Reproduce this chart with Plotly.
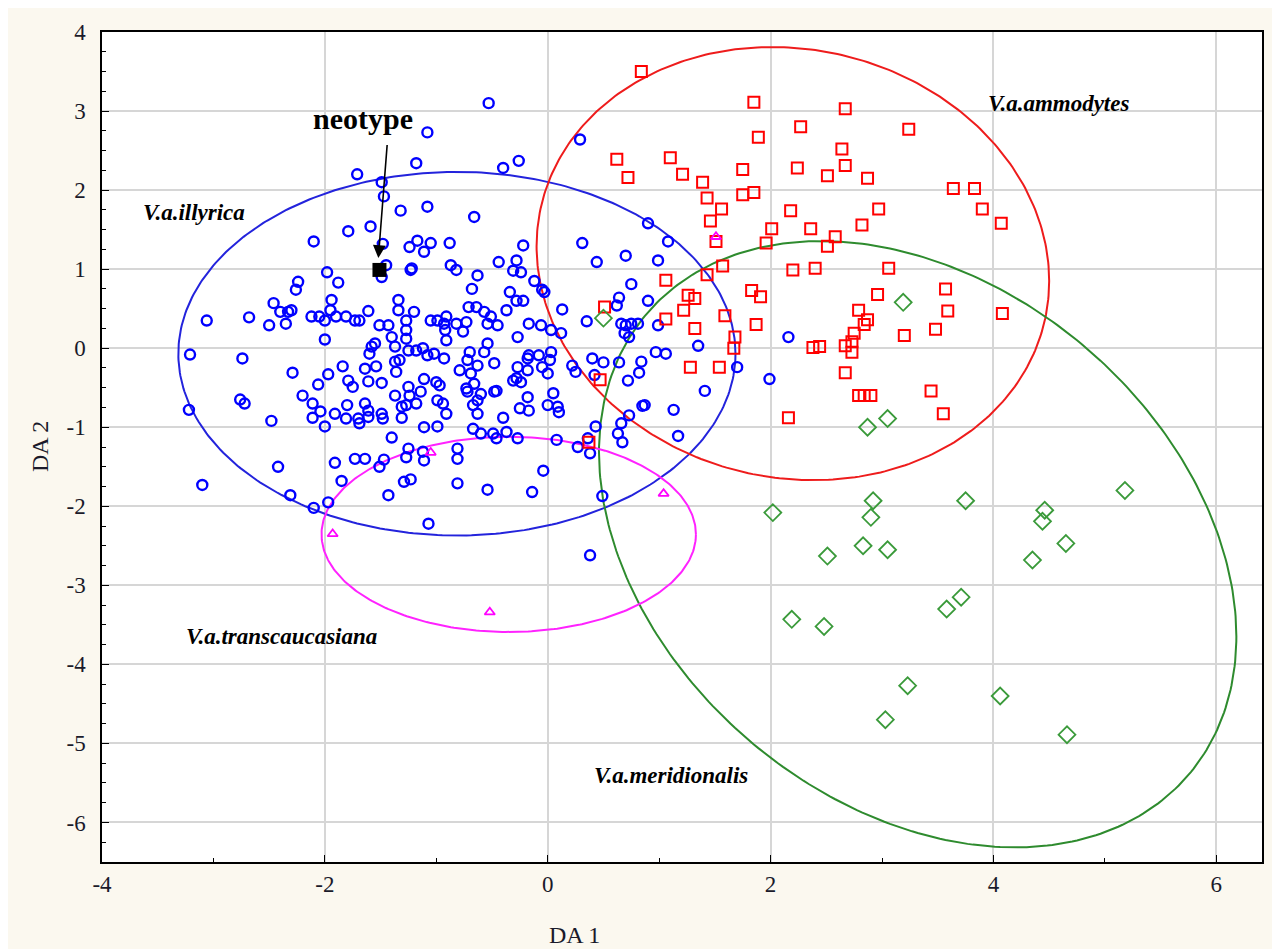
import numpy as np
import plotly.graph_objects as go

# ---------------- data (DA1, DA2) ----------------
illyrica_pts = [
    (-1.08, 2.73), (-1.18, 2.34), (-1.71, 2.20), (-1.49, 2.10), (-1.47, 1.92), (-1.32, 1.74),
    (-1.08, 1.79), (-1.79, 1.48), (-1.59, 1.54), (-2.10, 1.35), (-1.48, 1.32), (-1.24, 1.28),
    (-1.17, 1.36), (-1.11, 1.22), (-1.05, 1.33), (-0.88, 1.33), (-1.45, 1.05), (-1.49, 0.90),
    (-1.23, 0.99), (-1.22, 1.01), (-0.87, 1.05), (-0.82, 0.99), (-1.98, 0.96), (-1.88, 0.83),
    (-2.24, 0.84), (-2.26, 0.74), (-3.06, 0.35), (-2.68, 0.39), (-2.50, 0.29), (-2.46, 0.57),
    (-2.40, 0.46), (-2.33, 0.46), (-2.35, 0.31), (-2.30, 0.48), (-2.12, 0.40), (-2.05, 0.40),
    (-2.00, 0.35), (-1.94, 0.61), (-1.95, 0.48), (-1.90, 0.40), (-1.81, 0.40), (-1.73, 0.35),
    (-1.69, 0.35), (-1.61, 0.47), (-1.34, 0.61), (-1.34, 0.48), (-1.27, 0.35), (-1.20, 0.46),
    (-1.51, 0.29), (-1.43, 0.29), (-1.05, 0.35), (-0.99, 0.35), (-0.91, 0.40),
    # upper centre / right
    (-0.53, 3.10), (0.29, 2.64), (-0.40, 2.28), (-0.26, 2.37), (-0.66, 1.66), (0.90, 1.58),
    (1.08, 1.35), (-0.22, 1.30), (0.31, 1.33), (0.70, 1.17), (0.44, 1.09), (0.99, 1.11),
    (-0.44, 1.09), (-0.28, 1.11), (-0.31, 0.98), (-0.24, 0.96), (-0.63, 0.92), (-0.12, 0.85),
    (-0.05, 0.74), (-0.03, 0.71), (0.75, 0.81), (-0.68, 0.75), (-0.34, 0.71), (-0.28, 0.60),
    (-0.22, 0.60), (0.64, 0.64), (0.62, 0.54), (0.90, 0.60), (-0.71, 0.52), (-0.64, 0.52),
    (-0.57, 0.46), (-0.51, 0.40), (-0.37, 0.48), (0.13, 0.49), (0.35, 0.34), (-0.93, 0.31),
    (-0.82, 0.31), (-0.73, 0.33), (-0.54, 0.31), (-0.45, 0.29), (-0.17, 0.31), (-0.06, 0.29),
    (0.66, 0.31), (0.70, 0.29), (0.75, 0.31), (0.99, 0.29), (0.69, 0.19), (0.81, 0.31),
    # centre
    (-0.76, 0.21), (-0.27, 0.14), (0.03, 0.23), (0.12, 0.19), (-0.54, 0.06), (-0.57, -0.05),
    (-0.91, 0.10), (-0.93, -0.13), (-0.70, -0.05), (-0.72, -0.15), (-0.63, -0.22), (-0.79, -0.28),
    (-0.69, -0.32), (-0.66, -0.45), (-0.48, -0.19), (-0.73, -0.51), (-0.72, -0.55), (-0.60, -0.58),
    (-0.63, -0.66), (-0.67, -0.72), (-0.63, -0.83), (-0.91, -0.83), (-0.94, -0.70), (-0.46, -0.54),
    (-0.40, -0.88), (-0.27, -0.24), (-0.28, -0.38), (-0.24, -0.43), (-0.31, -0.41), (-0.18, -0.28),
    (-0.08, -0.09), (-0.17, -0.09), (-0.05, -0.24), (0.00, -0.32), (0.02, -0.15), (0.03, -0.05),
    (-0.18, -0.13), (-0.18, -0.62), (-0.25, -0.76), (-0.17, -0.79), (0.00, -0.72), (0.05, -0.57),
    (0.09, -0.74), (0.10, -0.81), (-0.48, -0.55), (-0.67, -1.02), (-0.60, -1.08), (-0.49, -1.08),
    (-0.46, -1.14), (-0.37, -1.06), (-0.27, -1.14), (-0.81, -1.27), (-0.81, -1.40), (-0.81, -1.71),
    (-0.54, -1.79), (-0.14, -1.82), (-0.04, -1.55), (0.08, -1.16), (0.27, -1.25), (0.36, -1.14),
    (0.38, -1.33), (0.43, -0.99), (0.49, -1.87), (0.38, -2.62), (0.63, -1.08), (0.67, -1.19),
    (0.66, -0.95), (0.73, -0.85), (1.17, -1.11), (1.13, -0.78), (0.87, -0.72), (0.85, -0.73),
    (1.41, -0.54), (0.72, -0.41), (0.82, -0.31), (0.84, -0.17), (0.64, -0.18), (0.50, -0.18),
    (0.40, -0.13), (0.22, -0.22), (0.25, -0.30), (0.42, -0.34), (0.97, -0.05), (1.06, -0.07),
    (1.35, 0.03), (0.73, 0.14), (1.70, -0.24), (2.16, 0.14), (1.99, -0.39),
    # left / lower left
    (-2.00, 0.11), (-3.21, -0.08), (-2.74, -0.13), (-2.29, -0.31), (-1.97, -0.33), (-1.84, -0.23),
    (-2.06, -0.46), (-2.20, -0.60), (-2.11, -0.70), (-2.04, -0.80), (-2.11, -0.88), (-2.00, -0.99),
    (-1.91, -0.83), (-2.48, -0.92), (-2.76, -0.65), (-2.72, -0.70), (-3.22, -0.78), (-1.80, -0.72),
    (-1.79, -0.41), (-1.75, -0.49), (-1.81, -0.89), (-1.70, -0.89), (-1.69, -0.95), (-1.64, -0.70),
    (-1.61, -0.79), (-1.61, -0.87), (-1.64, -0.26), (-1.54, -0.23), (-1.61, -0.42), (-1.49, -0.44),
    (-1.60, -0.07), (-1.58, 0.02), (-1.55, 0.06), (-1.49, -0.83), (-1.48, -0.89), (-1.40, 0.14),
    (-1.37, 0.02), (-1.37, -0.17), (-1.33, -0.15), (-1.36, -0.30), (-1.25, -0.03), (-1.18, -0.03),
    (-1.12, 0.00), (-1.08, -0.09), (-1.02, -0.07), (-1.27, 0.23), (-1.27, 0.12), (-1.11, -0.39),
    (-1.25, -0.49), (-1.24, -0.60), (-1.37, -0.60), (-1.31, -0.74), (-1.27, -0.72), (-1.18, -0.70),
    (-1.14, -0.55), (-1.31, -0.88), (-1.00, -0.43), (-0.97, -0.47), (-0.99, -0.66), (-1.11, -1.00),
    (-0.99, -0.99), (-0.92, 0.23), (-1.40, -1.13), (-1.91, -1.45), (-1.85, -1.68), (-1.73, -1.40),
    (-1.64, -1.40), (-1.51, -1.50), (-1.47, -1.41), (-1.27, -1.38), (-1.25, -1.27), (-1.12, -1.31),
    (-1.11, -1.42), (-1.29, -1.69), (-1.23, -1.66), (-1.43, -1.86), (-1.07, -2.22), (-2.42, -1.50),
    (-3.10, -1.73), (-2.31, -1.86), (-2.10, -2.02), (-1.97, -1.95),
]

ammodytes_pts = [
    (0.84, 3.50), (1.85, 3.11), (2.67, 3.03), (2.27, 2.80), (1.89, 2.67), (3.24, 2.77),
    (0.62, 2.39), (1.10, 2.41), (0.72, 2.16), (1.21, 2.20), (1.75, 2.26), (1.39, 2.10),
    (2.64, 2.52), (2.67, 2.31), (2.24, 2.28), (2.51, 2.18), (2.87, 2.15), (1.43, 1.90),
    (1.75, 1.94), (1.85, 1.97), (1.56, 1.76), (1.46, 1.61), (2.18, 1.74), (2.97, 1.76),
    (2.01, 1.51), (2.36, 1.51), (2.82, 1.56), (1.51, 1.35), (1.96, 1.33), (2.58, 1.41),
    (2.51, 1.29), (3.64, 2.02), (3.83, 2.02), (3.90, 1.76), (4.07, 1.58), (1.57, 1.04),
    (1.43, 0.93), (2.20, 0.99), (2.40, 1.01), (3.06, 1.01), (1.06, 0.86), (1.26, 0.67),
    (1.32, 0.63), (1.83, 0.73), (1.91, 0.65), (2.96, 0.68), (3.57, 0.75), (1.22, 0.48),
    (1.06, 0.37), (1.59, 0.41), (0.51, 0.52), (2.79, 0.48), (2.87, 0.36), (2.84, 0.30),
    (1.87, 0.30), (1.32, 0.25), (3.59, 0.47), (4.08, 0.44), (3.48, 0.24), (3.20, 0.16),
    (1.68, 0.14), (1.67, 0.00), (1.28, -0.24), (1.54, -0.24), (0.47, -0.40), (2.16, -0.88),
    (2.38, 0.01), (2.44, 0.02), (2.67, 0.03), (2.73, 0.08), (2.75, 0.19), (2.73, -0.05),
    (2.67, -0.31), (2.79, -0.60), (2.84, -0.60), (2.90, -0.60), (3.44, -0.54), (3.55, -0.83),
    (0.37, -1.19),
]

meridionalis_pts = [
    (0.50, 0.38), (3.19, 0.58), (3.05, -0.89), (2.87, -1.00),
    (2.02, -2.08), (2.92, -1.93), (2.90, -2.14), (3.75, -1.93), (2.51, -2.63), (2.83, -2.50),
    (3.05, -2.55), (4.46, -2.05), (4.44, -2.19), (4.65, -2.47), (4.35, -2.68), (5.18, -1.80),
    (2.19, -3.43), (2.48, -3.52), (3.58, -3.30), (3.71, -3.15), (3.23, -4.27), (3.03, -4.70),
    (4.06, -4.40), (4.66, -4.89),
]

transcaucasiana_pts = [
    (1.51, 1.41), (-1.05, -1.32), (-1.93, -2.35), (1.04, -1.84), (-0.52, -3.34),
]

neotype_pt = (-1.51, 0.99)

# 95% ellipses: centre x, centre y, half-width, half-height, correlation
ellipse_names = ["illyrica", "ammodytes", "meridionalis", "transcaucasiana"]
ellipse_cx = [-0.815, 2.20, 3.32, -0.35]
ellipse_cy = [-0.07, 1.07, -2.48, -2.355]
ellipse_sx = [2.50, 2.30, 2.86, 1.68]
ellipse_sy = [2.30, 2.74, 3.835, 1.235]
ellipse_rho = [0.0, -0.08, -0.3045, 0.0]

x_ticks = [-4, -2, 0, 2, 4, 6]
x_tick_labels = ["-4", "-2", "0", "2", "4", "6"]
y_ticks = [4, 3, 2, 1, 0, -1, -2, -3, -4, -5, -6]
y_tick_labels = ["4", "3", "2", "1", "0", "-1", "-2", "-3", "-4", "-5", "-6"]

group_labels = ["V.a.illyrica", "V.a.ammodytes", "V.a.transcaucasiana", "V.a.meridionalis"]
group_label_x = [-3.17, 4.58, -2.39, 1.11]
group_label_y = [1.72, 3.10, -3.65, -5.41]

x_title = "DA 1"
y_title = "DA 2"

# ---------------- figure ----------------
SERIF = "Liberation Serif, Times New Roman, serif"
TXT = "#1a1a2a"
fig = go.Figure()

ell_colors = ["#2323DC", "#EE1C1C", "#2E8B2E", "#FF22FF"]
t = np.linspace(0, 2 * np.pi, 361)
for cx, cy, sx, sy, r, col in zip(ellipse_cx, ellipse_cy, ellipse_sx, ellipse_sy, ellipse_rho, ell_colors):
    ex = cx + sx * np.cos(t)
    ey = cy + sy * (r * np.cos(t) + np.sqrt(1 - r * r) * np.sin(t))
    fig.add_trace(go.Scatter(x=ex, y=ey, mode="lines", line=dict(color=col, width=2),
                             hoverinfo="skip", showlegend=False))

def unzip(pts):
    return [p[0] for p in pts], [p[1] for p in pts]

groups = [
    (illyrica_pts, "circle-open", 10, "#0000FF", 2.4),
    (ammodytes_pts, "square-open", 11, "#FF0000", 2.0),
    (meridionalis_pts, "diamond-open", 13, "#3A9A3A", 1.8),
    (transcaucasiana_pts, "triangle-up-open", 9, "#FF00FF", 1.8),
]
for pts, sym, size, col, lw in groups:
    gx, gy = unzip(pts)
    fig.add_trace(go.Scatter(x=gx, y=gy, mode="markers",
                             marker=dict(symbol=sym, size=size, color=col, line=dict(width=lw, color=col)),
                             showlegend=False))

fig.add_trace(go.Scatter(x=[neotype_pt[0]], y=[neotype_pt[1]], mode="markers",
                         marker=dict(symbol="square", size=14, color="black"), showlegend=False))

# neotype arrow + label
fig.add_annotation(x=neotype_pt[0] - 0.01, y=neotype_pt[1] + 0.15, ax=-1.44, ay=2.59,
                   xref="x", yref="y", axref="x", ayref="y", text="", showarrow=True,
                   arrowhead=2, arrowsize=1.6, arrowwidth=1.6, arrowcolor="black")
fig.add_annotation(x=-1.66, y=2.91, xref="x", yref="y", text="<b>neotype</b>", showarrow=False,
                   font=dict(family=SERIF, size=30, color="black"))

for lab, lx, ly in zip(group_labels, group_label_x, group_label_y):
    fig.add_annotation(x=lx, y=ly, xref="x", yref="y", text=f"<b><i>{lab}</i></b>", showarrow=False,
                       font=dict(family=SERIF, size=23, color="black"))

# axis titles (placed like the reference: DA 1 sits a little left of the frame centre)
fig.add_annotation(x=0.24, y=0, xref="x", yref="paper", yshift=-73, yanchor="middle", xanchor="center",
                   text=x_title, showarrow=False, font=dict(family=SERIF, size=24, color=TXT))
fig.add_annotation(x=0, y=0.5, xref="paper", yref="paper", xshift=-62, xanchor="center", yanchor="middle",
                   text=y_title, textangle=-90, showarrow=False, font=dict(family=SERIF, size=24, color=TXT))

axis_common = dict(
    showgrid=True, gridcolor="#D6D6D6", gridwidth=2, zeroline=False,
    showline=True, linecolor="black", linewidth=1.5, mirror=True,
    ticks="inside", ticklen=7, tickcolor="black", tickwidth=1.2,
    tickfont=dict(family=SERIF, size=23, color=TXT), automargin=False,
)
fig.update_xaxes(range=[-4, 6.41], tickvals=x_ticks, ticktext=x_tick_labels,
                 minor=dict(dtick=1, tick0=0, ticks="inside", ticklen=4, tickcolor="black", showgrid=False),
                 ticklabelstandoff=1, **axis_common)
fig.update_yaxes(range=[-6.5, 4], tickvals=y_ticks, ticktext=y_tick_labels,
                 minor=dict(dtick=0.25, tick0=0, ticks="inside", ticklen=4, tickcolor="black", showgrid=False),
                 ticklabelstandoff=10, **axis_common)

# the page adds an 8 px body margin; size the figure so the plot frame lands where the reference has it
fig.update_layout(
    width=1264, height=941,
    margin=dict(l=94, r=10, t=24, b=87),
    paper_bgcolor="#FBF8EF", plot_bgcolor="white",
    showlegend=False,
)

fig.write_html("out.html")
